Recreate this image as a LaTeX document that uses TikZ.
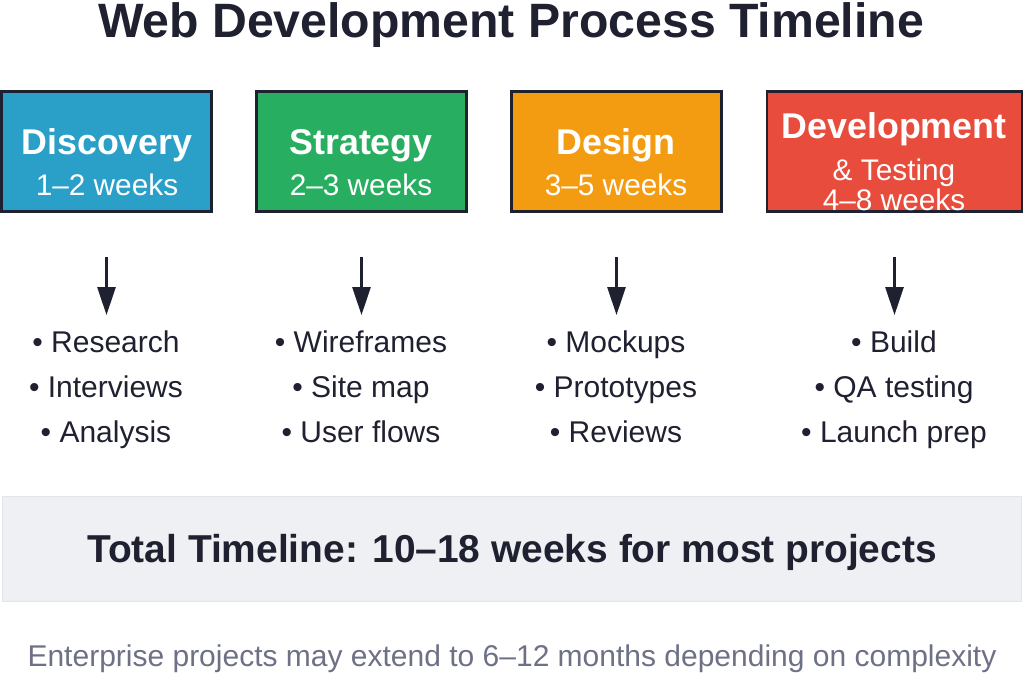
\documentclass[tikz,border=0pt]{standalone}
\usepackage{fontspec}
\setmainfont{Liberation Sans}
\usepackage{xcolor}
\usepackage{tikz}
\usetikzlibrary{arrows.meta,positioning}
\definecolor{discblue}{HTML}{2A9FC7}
\definecolor{stratgreen}{HTML}{27AE60}
\definecolor{designorange}{HTML}{F39C12}
\definecolor{devred}{HTML}{E74C3C}
\definecolor{boxline}{HTML}{1E2230}
\definecolor{inktext}{HTML}{1F2030}
\definecolor{notegray}{HTML}{6E7186}
\definecolor{bandfill}{HTML}{EFF0F3}
\definecolor{bandline}{HTML}{E4E5E9}
\tikzset{
  phasebox/.style={draw=boxline, line width=2.7pt, minimum width=210pt, minimum height=120pt, inner sep=0pt}
}
\tikzset{
  phasename/.style={text=white, font=\fontsize{35.8}{40}\selectfont\bfseries, anchor=base, inner sep=0pt},
  phasetime/.style={text=white, font=\fontsize{29.8}{34}\selectfont, anchor=base, inner sep=0pt},
  taskitem/.style={text=inktext, font=\fontsize{30}{34}\selectfont, anchor=base, inner sep=0pt},
  flowarrow/.style={-{Triangle[length=28pt,width=18pt]}, line width=2.7pt, draw=boxline, shorten <=44pt, shorten >=15pt}
}

\begin{document}
\begin{tikzpicture}[x=1pt, y=-1pt]
        \useasboundingbox (0,0) rectangle (1024,674);
        % Title on top
        \node[text=inktext, font=\fontsize{48.2}{54}\selectfont\bfseries, anchor=base, inner sep=0pt] (title) at (511,38) {Web Development Process Timeline};

        % Four phase boxes in a row
        \node[phasebox, fill=discblue] (disc) at (106.5,151.5) {};
        \node[phasebox, fill=stratgreen] (strat) at (361.5,151.5) {};
        \node[phasebox, fill=designorange] (desgn) at (616.5,151.5) {};
        \node[phasebox, fill=devred, minimum width=255pt] (devt) at (894.5,151.5) {};

        % Phase names and durations
        \node[phasename] (disc-name) at (107,154) {Discovery};
        \node[phasetime] (disc-time) at (107,195) {1–2 weeks};
        \node[phasename] (strat-name) at (361,154) {Strategy};
        \node[phasetime] (strat-time) at (361,195) {2–3 weeks};
        \node[phasename] (desgn-name) at (616,154) {Design};
        \node[phasetime] (desgn-time) at (616,195) {3–5 weeks};
        \node[phasename] (devt-name) at (894,138) {Development};
        \node[phasetime] (devt-sub) at (894,180) {\& Testing};
        \node[phasetime] (devt-time) at (894,210) {4–8 weeks};

        % Tasks under every phase
        \node[taskitem] (disc-a) at (106,352) {• Research};
        \node[taskitem] (disc-b) at (106,397) {• Interviews};
        \node[taskitem] (disc-c) at (106,442) {• Analysis};
        \node[taskitem] (strat-a) at (361,352) {• Wireframes};
        \node[taskitem] (strat-b) at (361,397) {• Site map};
        \node[taskitem] (strat-c) at (361,442) {• User flows};
        \node[taskitem] (desgn-a) at (616,352) {• Mockups};
        \node[taskitem] (desgn-b) at (616,397) {• Prototypes};
        \node[taskitem] (desgn-c) at (616,442) {• Reviews};
        \node[taskitem] (devt-a) at (894,352) {• Build};
        \node[taskitem] (devt-b) at (894,397) {• QA testing};
        \node[taskitem] (devt-c) at (894,442) {• Launch prep};

        % Arrows from boxes down to the task lists
        \draw[flowarrow] (disc.south) -- (disc.south |- disc-a.north);
        \draw[flowarrow] (strat.south) -- (strat.south |- strat-a.north);
        \draw[flowarrow] (desgn.south) -- (desgn.south |- desgn-a.north);
        \draw[flowarrow] (devt.south) -- (devt.south |- devt-a.north);

        % Total band and footnote
        \node[draw=bandline, fill=bandfill, line width=1.5pt, minimum width=1019pt, minimum height=105pt, inner sep=0pt] (band) at (512,549) {};
        \node[text=inktext, font=\fontsize{38.9}{44}\selectfont\bfseries, anchor=base, inner sep=0pt] (total) at (512,562) {Total Timeline: 10–18 weeks for most projects};
        \node[text=notegray, font=\fontsize{30}{34}\selectfont, anchor=base, inner sep=0pt] (note) at (512,666) {Enterprise projects may extend to 6–12 months depending on complexity};
    \end{tikzpicture}
\end{document}
